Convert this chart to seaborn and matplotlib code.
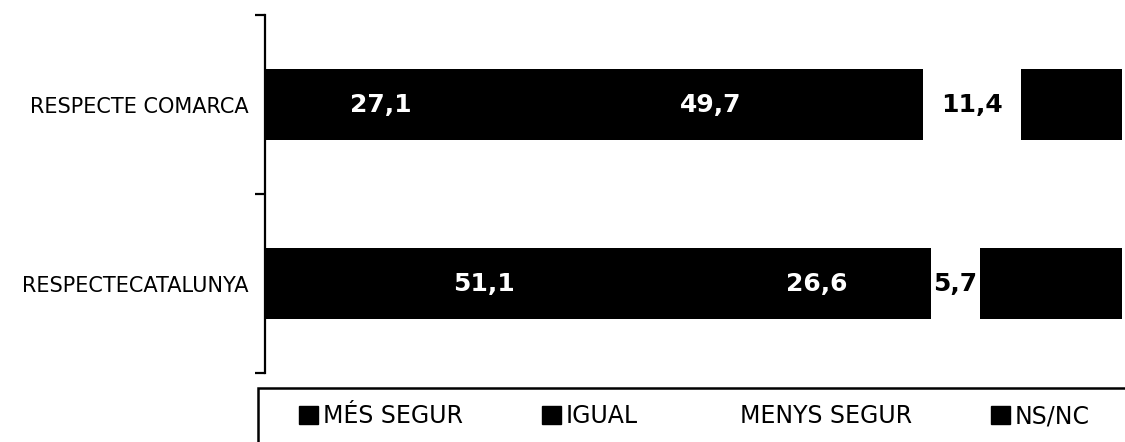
import numpy as np
import pandas as pd
import matplotlib
matplotlib.use("Agg")
import matplotlib.pyplot as plt
from matplotlib.patches import Patch, Rectangle
import seaborn as sns

# ----------- DONNÉES -------------
categories = ['RESPECTE COMARCA', 'RESPECTECATALUNYA']
series_names = ['MÉS SEGUR', 'IGUAL', 'MENYS SEGUR', 'NS/NC']
mes_segur = [27.1, 51.1]
igual = [49.7, 26.6]
menys_segur = [11.4, 5.7]
ns_nc = [11.8, 16.6]
series_colors = ['black', 'black', 'white', 'black']
label_colors = ['white', 'white', 'black', None]  # NS/NC: pas d'étiquette visible

sns.set_style("white")
plt.rcParams['font.family'] = ['DejaVu Sans']
plt.rcParams['text.color'] = 'black'

values = np.array([mes_segur, igual, menys_segur, ns_nc])
cums = np.cumsum(values, axis=0)

fig = plt.figure(figsize=(11.25, 4.42), dpi=100)
ax = fig.add_axes([0.2356, 0.156, 0.7618, 0.810])

# Barres empilées : on superpose les cumuls du plus grand au plus petit
for i in range(len(series_names) - 1, -1, -1):
    df = pd.DataFrame({'cat': categories, 'val': cums[i]})
    sns.barplot(data=df, x='val', y='cat', orient='h', color=series_colors[i],
                saturation=1, width=0.4, errorbar=None, linewidth=0, ax=ax)

# Étiquettes de valeurs au centre de chaque segment
for i, name in enumerate(series_names):
    if label_colors[i] is None:
        continue
    for j in range(len(categories)):
        v = values[i][j]
        center = cums[i][j] - v / 2
        ax.text(center, j, f"{v:.1f}".replace('.', ','), ha='center', va='center',
                color=label_colors[i], fontsize=18, fontweight='bold', zorder=3)

ax.set_xlim(0, 100)
ax.set_ylim(1.5, -0.5)
ax.set_xlabel('')
ax.set_ylabel('')
ax.set_xticks([])
ax.set_yticks([0, 1])
ax.set_yticklabels(categories, fontsize=15, color='black')
ax.tick_params(axis='y', which='major', left=True, length=0, pad=12)
ax.set_yticks([-0.5, 0.5, 1.5], minor=True)
ax.tick_params(axis='y', which='minor', left=True, length=7, width=1.6,
               direction='out', color='black')
for side in ['top', 'right', 'bottom']:
    ax.spines[side].set_visible(False)
ax.spines['left'].set_linewidth(1.6)
ax.spines['left'].set_color('black')

# Légende en bas, avec un cadre qui déborde de l'image
handles = [Patch(facecolor=c, edgecolor=c) for c in series_colors]
leg = fig.legend(handles, series_names, loc='center left', bbox_to_anchor=(299 / 1125, 0.0588),
                 ncol=4, frameon=False, fontsize=17, borderpad=0, borderaxespad=0,
                 handlelength=0.8, handleheight=0.8, handletextpad=0.2, columnspacing=3.35)
for t in leg.get_texts():
    t.set_color('black')
fig.patches.append(Rectangle((258 / 1125, -0.1), 1.0, 0.1 + 1 - 388 / 442,
                             transform=fig.transFigure, fill=False,
                             edgecolor='black', linewidth=1.8))

fig.savefig("out.png", dpi=100)
